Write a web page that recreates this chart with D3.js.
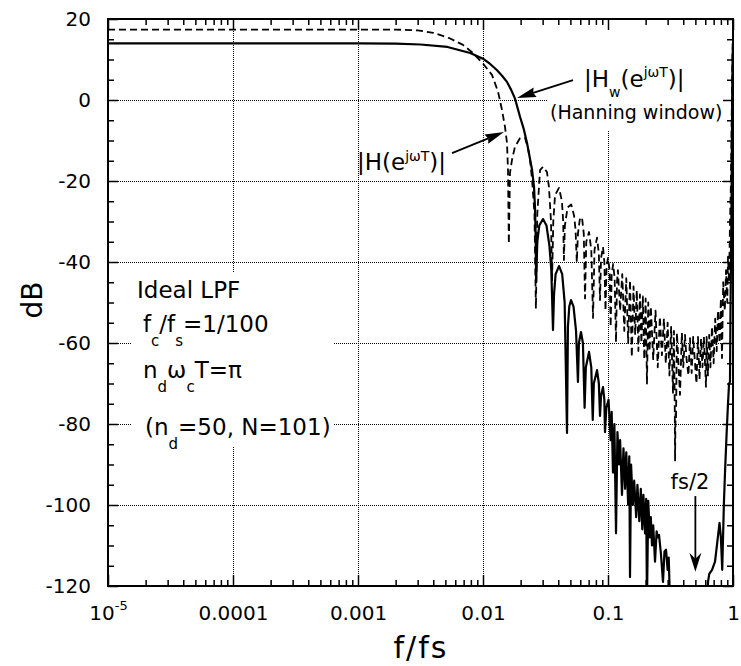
<!DOCTYPE html>
<html><head><meta charset="utf-8">
<script src="https://cdn.jsdelivr.net/npm/d3@7"></script>
<style>
body{margin:0;background:#fff;}
svg text{font-family:"DejaVu Sans",sans-serif;fill:#000;}
</style></head><body>
<svg id="chart" width="741" height="666"></svg>
<script>
// ---------- data ----------
const xTickValues = [1e-5, 1e-4, 1e-3, 1e-2, 1e-1, 1];
const xTickLabels = ["10^-5", "0.0001", "0.001", "0.01", "0.1", "1"];
const yTickValues = [20, 0, -20, -40, -60, -80, -100, -120];
const yTickLabels = ["20", "0", "-20", "-40", "-60", "-80", "-100", "-120"];

// |Hw(e^jwT)| (Hanning window), solid  [f/fs, dB]
const hanningWindow = [
[1e-5,14.0],[1e-4,14.0],[1e-3,14.0],[0.002,13.9],[0.00316,13.7],[0.0052,13.1],[0.0079,11.6],[0.01,10.2],
[0.0114,8.9],[0.0129,7.4],[0.0142,6.0],[0.0156,4.4],[0.0168,2.5],[0.018,0.4],[0.0198,-4.2],[0.0212,-7.2],
[0.0225,-10.6],[0.0247,-17.3],[0.0256,-21.5],[0.0261,-27],[0.0264,-34],[0.0266,-45],
[0.0272,-35],[0.0282,-31],[0.0302,-29.4],[0.0322,-31],[0.034,-36],[0.0352,-42],[0.0363,-56.8],
[0.037,-48],[0.0381,-43],[0.0406,-41],[0.043,-43],[0.045,-50],[0.047,-82.2],
[0.0478,-56],[0.049,-51],[0.0506,-49.4],[0.053,-51],[0.0555,-57],[0.0575,-69.6],
[0.0585,-60],[0.0608,-57.3],[0.063,-60],[0.065,-76],
[0.0665,-66],[0.0705,-62.2],[0.0735,-66],[0.0755,-79],
[0.077,-70],[0.0817,-66.7],[0.0845,-70],[0.0863,-78],
[0.088,-73],[0.0912,-70.9],[0.0935,-74],[0.0946,-82],
[0.097,-76],[0.101,-74],[0.105,-84],[0.107,-77],[0.1096,-92],[0.1125,-80],[0.1159,-107],[0.119,-82],
[0.1225,-90],[0.125,-84],[0.1294,-97.5],[0.133,-86],[0.137,-96],[0.14,-87],[0.145,-100],[0.148,-88],
[0.15,-117.8],[0.153,-90],[0.158,-100],[0.162,-94],[0.168,-103],[0.172,-95],[0.178,-104],[0.183,-96],
[0.188,-106],[0.192,-97.5],[0.198,-107],[0.202,-98.5],[0.205,-124],[0.21,-99],[0.216,-108],[0.22,-103],
[0.225,-110],[0.23,-105],[0.2377,-114],[0.245,-106.5],[0.25,-108],[0.256,-107.4],[0.265,-112],[0.2754,-119],
[0.283,-111.5],[0.2911,-111],[0.3,-116],[0.306,-113],[0.3133,-124],[0.33,-140],[0.45,-155],[0.6,-140],
[0.631,-119],[0.646,-117],[0.68,-116],[0.718,-114],[0.75,-109],[0.78,-104.4],[0.8,-108],[0.82,-116],
[0.845,-100],[0.863,-92],[0.89,-82],[0.912,-75],[0.93,-70],[0.946,-69.6],[0.955,-52],[0.965,-38],
[0.975,-22],[0.985,0],[0.992,10],[1,14]
];

// |H(e^jwT)| (rectangular window), dashed  [f/fs, dB]
const rectangularWindow = [
[1e-5,17.4],[1e-4,17.4],[1e-3,17.4],[0.002,17.4],[0.003,17.2],[0.004,16.6],[0.00545,15.2],[0.00692,13.6],
[0.00832,11.6],[0.01,9.0],[0.0118,6.2],[0.0132,2.0],[0.0142,-2.5],[0.015,-6.7],[0.01556,-10.6],[0.01585,-17.3],
[0.0161,-35.5],[0.01644,-18],[0.01706,-14.8],[0.018,-11.6],[0.0198,-9.4],[0.0217,-9.4],[0.0229,-11.9],
[0.0238,-14.8],[0.0247,-19.8],[0.0258,-28],[0.0265,-51.5],[0.0272,-28],[0.0286,-17.3],[0.0302,-16.5],
[0.0325,-17.8],[0.0337,-21.5],[0.035,-30],[0.0357,-44.5],[0.0365,-30],[0.0377,-23.5],[0.0405,-21.7],
[0.0428,-25],[0.0438,-30],[0.0444,-39.5],[0.0452,-31],[0.0475,-26.5],[0.0508,-25.8],[0.0535,-28.5],
[0.055,-32],[0.0563,-40],[0.0575,-33],[0.0595,-29.5],[0.0619,-28.9],[0.064,-33],[0.0655,-49],[0.067,-35],
[0.0705,-32.6],[0.0735,-37],[0.0759,-53.8],[0.078,-37],[0.0817,-34],[0.0845,-38],[0.0863,-49.4],[0.088,-39],
[0.0912,-36.3],[0.0935,-40],[0.0955,-52],[0.0975,-41],[0.1,-39],[0.103,-42],[0.105,-56],[0.107,-43],
[0.11,-40.5],[0.113,-44],[0.1159,-59.8],[0.118,-45],[0.12,-42],[0.125,-52],[0.13,-43],[0.135,-57],
[0.14,-44],[0.145,-60],[0.15,-44.5],[0.155,-63.5],[0.16,-46],[0.165,-58],[0.17,-47],[0.175,-62],
[0.18,-48],[0.185,-60],[0.19,-48.5],[0.195,-64],[0.2,-49],[0.205,-70],[0.21,-50],[0.215,-62],
[0.22,-51],[0.23,-64],[0.24,-52],[0.25,-66],[0.26,-53.5],[0.27,-63],[0.28,-54],[0.29,-65],
[0.3,-55],[0.31,-68],[0.32,-56],[0.3311,-72.3],[0.337,-57],[0.342,-76],[0.344,-89],[0.347,-77.5],
[0.35,-79],[0.356,-57.5],[0.3767,-72.8],[0.39,-57.5],[0.4,-66],[0.413,-58],[0.425,-64],[0.44,-68],
[0.4529,-58.8],[0.467,-67.4],[0.48,-58.5],[0.4966,-65],[0.51,-70],[0.5248,-58.5],[0.54,-69],[0.555,-59],
[0.57,-66],[0.585,-58.5],[0.6081,-70.8],[0.615,-58.5],[0.63,-68],[0.645,-58],[0.66,-66],[0.679,-56],
[0.7,-65],[0.72,-54],[0.74,-62],[0.7586,-52],[0.78,-60],[0.8,-49],[0.8166,-63.7],[0.835,-45],
[0.86,-52],[0.88,-42],[0.9,-50],[0.912,-38.7],[0.93,-45],[0.9462,-30],[0.96,-22],[0.97,-12],
[0.98,0],[0.99,10],[1,17.4]
];

// annotation anchors in data units [f/fs, dB]
const hwArrow = {from:[0.0525,4.9], to:[0.0187,0.5]};
const hArrow  = {from:[0.00565,-13.1], to:[0.01472,-7.9]};
const fsArrow = {from:[0.5,-97.8], to:[0.5,-116.5]};

// ---------- drawing ----------
const W = 741, H = 666;
const m = {left:108, right:733, top:19, bottom:586};
const x = d3.scaleLog().domain([1e-5, 1]).range([m.left, m.right]);
const y = d3.scaleLinear().domain([-120, 20]).range([m.bottom, m.top]);
const svg = d3.select("#chart");
svg.append("rect").attr("width", W).attr("height", H).attr("fill", "#fff");

const crisp = v => Math.round(v) + 0.5;

// grid
const grid = svg.append("g").attr("stroke", "#000").attr("stroke-width", 1).attr("stroke-dasharray", "1,1");
xTickValues.slice(1, -1).forEach(v => grid.append("line")
  .attr("x1", crisp(x(v))).attr("x2", crisp(x(v))).attr("y1", m.top).attr("y2", m.bottom));
yTickValues.slice(1, -1).forEach(v => grid.append("line")
  .attr("y1", crisp(y(v))).attr("y2", crisp(y(v))).attr("x1", m.left).attr("x2", m.right));

// white boxes behind the annotation text
svg.append("rect").attr("x", 132).attr("y", 272).attr("width", 202).attr("height", 174).attr("fill", "#fff");
svg.append("rect").attr("x", 547).attr("y", 27).attr("width", 185).attr("height", 103).attr("fill", "#fff");

// curves
svg.append("clipPath").attr("id", "clip").append("rect")
  .attr("x", m.left).attr("y", m.top).attr("width", m.right - m.left).attr("height", m.bottom - m.top);
const line = d3.line().x(d => x(d[0])).y(d => y(d[1]));
const curves = svg.append("g").attr("clip-path", "url(#clip)").attr("fill", "none").attr("stroke", "#000")
  .attr("stroke-linejoin", "round");
curves.append("path").datum(rectangularWindow).attr("d", line)
  .attr("stroke-width", 1.8).attr("stroke-dasharray", "7,4");
curves.append("path").datum(hanningWindow).attr("d", line).attr("stroke-width", 2.2);

// rich text helper
function rich(xp, yp, size, small, parts) {
  const t = svg.append("text").attr("x", xp).attr("y", yp).attr("font-size", size);
  let cur = 0;
  parts.forEach(p => {
    const target = p.sub ? p.sub : (p.sup ? -p.sup : 0);
    t.append("tspan").attr("dy", target - cur).attr("font-size", (p.sub || p.sup) ? small : size).text(p.t);
    cur = target;
  });
  return t;
}

// Ideal LPF text block
rich(137, 298, 23, 15, [{t:"Ideal LPF"}]);
rich(143, 332, 23, 15, [{t:"f"}, {t:"c", sub:14}, {t:"/f"}, {t:"s", sub:14}, {t:"=1/100"}]);
rich(143, 378, 23, 15, [{t:"n"}, {t:"d", sub:14}, {t:"ω"}, {t:"c", sub:14}, {t:"T=π"}]);
rich(145, 435, 23, 15, [{t:"(n"}, {t:"d", sub:14}, {t:"=50, N=101)"}]);

// curve labels
rich(584, 87, 23, 14, [{t:"|H"}, {t:"w", sub:10}, {t:"(e"}, {t:"jωT", sup:10}, {t:")|"}]);
svg.append("text").attr("x", 550).attr("y", 119).attr("font-size", 19).text("(Hanning window)");
rich(357, 170, 23, 14, [{t:"|H(e"}, {t:"jωT", sup:9}, {t:")|"}]);
svg.append("text").attr("x", 690).attr("y", 489).attr("font-size", 21).attr("text-anchor", "middle").text("fs/2");

// arrows
function arrow(a, len, hw, notch) {
  const x1 = x(a.from[0]), y1 = y(a.from[1]), x2 = x(a.to[0]), y2 = y(a.to[1]);
  const dx = x2 - x1, dy = y2 - y1, L = Math.hypot(dx, dy), ux = dx / L, uy = dy / L;
  const bx = x2 - ux * len, by = y2 - uy * len;
  svg.append("line").attr("x1", x1).attr("y1", y1).attr("x2", x2 - ux * (len - notch)).attr("y2", y2 - uy * (len - notch))
    .attr("stroke", "#000").attr("stroke-width", 1.8);
  const pts = [[x2, y2], [bx - uy * hw, by + ux * hw], [x2 - ux * (len - notch), y2 - uy * (len - notch)], [bx + uy * hw, by - ux * hw]];
  svg.append("polygon").attr("points", pts.map(p => p.join(",")).join(" ")).attr("fill", "#000");
}
arrow(hwArrow, 19, 5, 2);
arrow(hArrow, 19, 5, 2);
arrow(fsArrow, 19, 6, 6);

// axes
function styleAxis(g) {
  g.select(".domain").remove();
  g.selectAll(".tick line").attr("stroke", "#000").attr("stroke-width", 1.5);
  g.selectAll("text").attr("font-size", 20).attr("font-family", "DejaVu Sans").attr("fill", "#000");
  g.attr("font-family", null).attr("font-size", null);
}
const minorX = [];
for (let e = -5; e < 0; e++) for (let k = 2; k <= 9; k++) minorX.push(k * Math.pow(10, e));
const minorY = d3.range(-115, 20, 5).filter(v => v % 20 !== 0);

const xb = svg.append("g").attr("transform", `translate(0,${m.bottom})`)
  .call(d3.axisBottom(x).tickValues(xTickValues).tickSize(-11).tickPadding(20).tickFormat((d, i) => xTickLabels[i]))
  .call(styleAxis);
xb.selectAll(".tick text").filter((d, i) => i === 0).each(function() {
  const t = d3.select(this); const parts = t.text().split("^"); t.text("");
  t.append("tspan").text(parts[0]);
  t.append("tspan").attr("font-size", 13).attr("dy", -10).text(parts[1]);
});
svg.append("g").attr("transform", `translate(0,${m.bottom})`)
  .call(d3.axisBottom(x).tickValues(minorX).tickSize(-6).tickFormat("")).call(styleAxis);
svg.append("g").attr("transform", `translate(0,${m.top})`)
  .call(d3.axisTop(x).tickValues(xTickValues).tickSize(-11).tickFormat("")).call(styleAxis);
svg.append("g").attr("transform", `translate(0,${m.top})`)
  .call(d3.axisTop(x).tickValues(minorX).tickSize(-6).tickFormat("")).call(styleAxis);

svg.append("g").attr("transform", `translate(${m.left},0)`)
  .call(d3.axisLeft(y).tickValues(yTickValues).tickSize(-10).tickPadding(17).tickFormat((d, i) => yTickLabels[i]))
  .call(styleAxis);
svg.append("g").attr("transform", `translate(${m.left},0)`)
  .call(d3.axisLeft(y).tickValues(minorY).tickSize(-6).tickFormat("")).call(styleAxis);
svg.append("g").attr("transform", `translate(${m.right},0)`)
  .call(d3.axisRight(y).tickValues(yTickValues).tickSize(-10).tickFormat("")).call(styleAxis);
svg.append("g").attr("transform", `translate(${m.right},0)`)
  .call(d3.axisRight(y).tickValues(minorY).tickSize(-6).tickFormat("")).call(styleAxis);

// frame
svg.append("rect").attr("x", m.left).attr("y", m.top).attr("width", m.right - m.left).attr("height", m.bottom - m.top)
  .attr("fill", "none").attr("stroke", "#000").attr("stroke-width", 2);

// axis titles
svg.append("text").attr("x", 421).attr("y", 658).attr("font-size", 30).attr("letter-spacing", 2)
  .attr("text-anchor", "middle").text("f/fs");
svg.append("text").attr("transform", "translate(42,300) rotate(-90)").attr("font-size", 28)
  .attr("text-anchor", "middle").text("dB");
</script>
</body></html>
